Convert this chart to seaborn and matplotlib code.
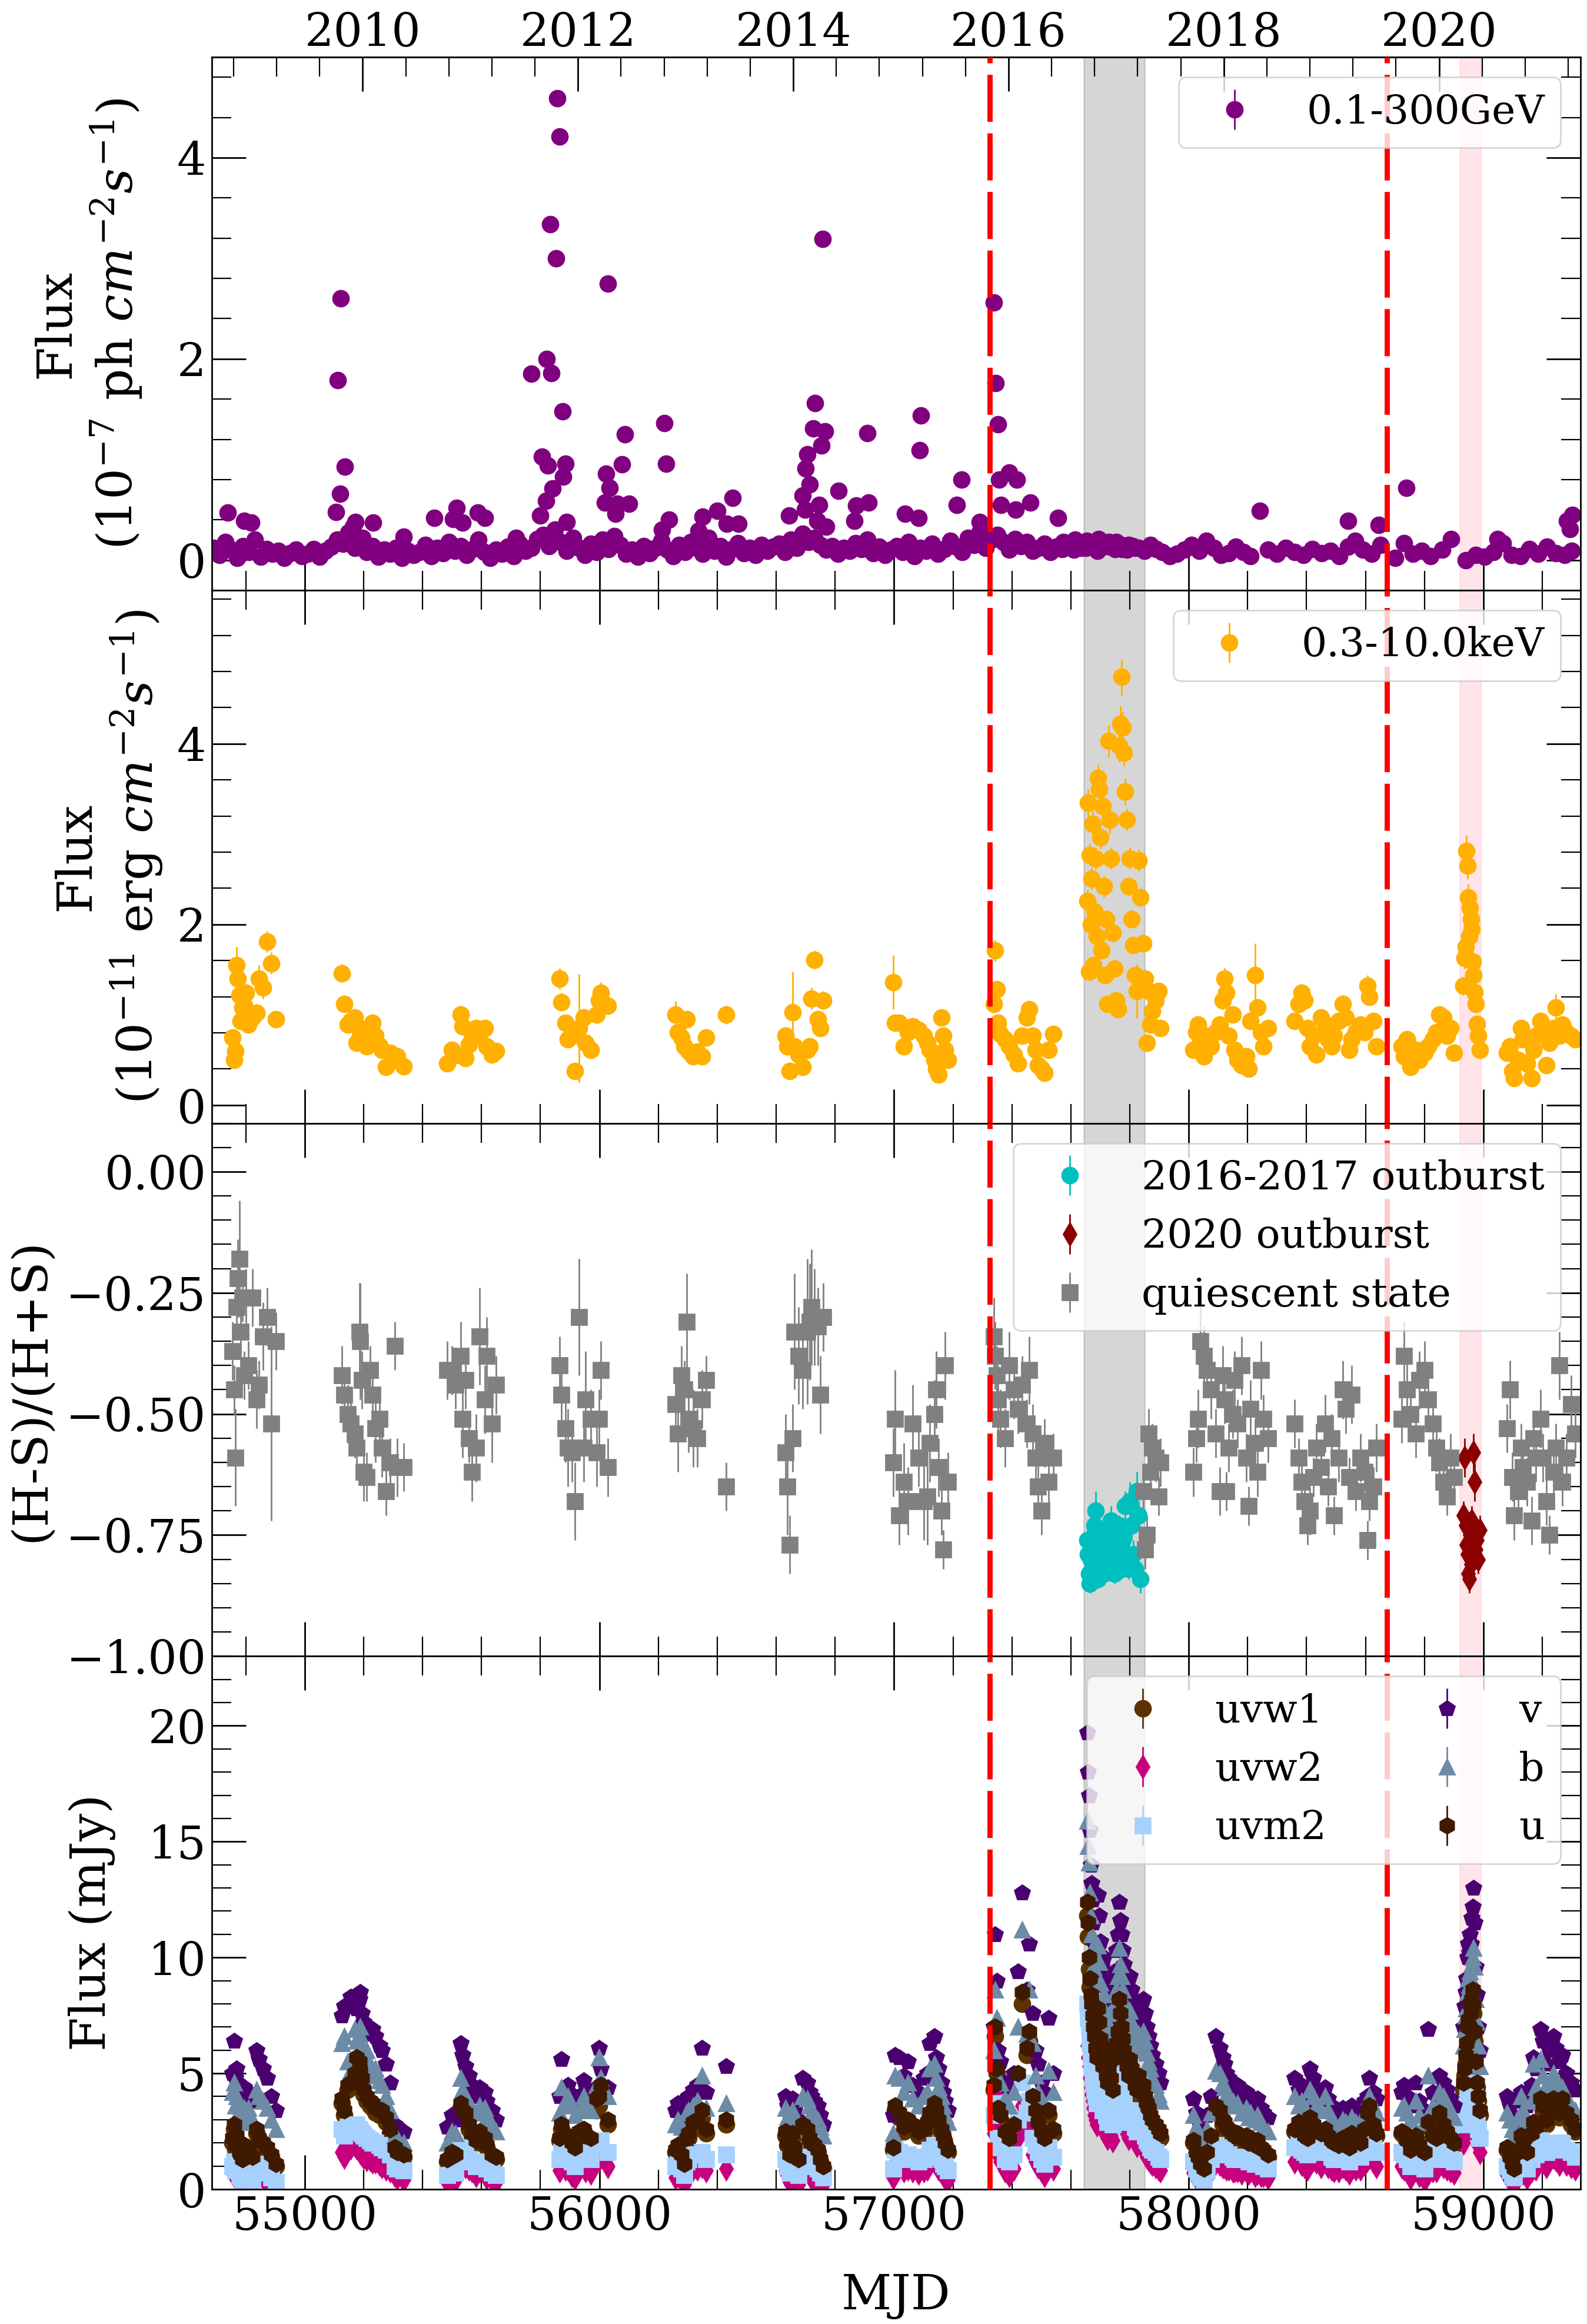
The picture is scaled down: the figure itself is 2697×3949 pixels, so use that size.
import numpy as np
import pandas as pd
import seaborn as sns
import matplotlib.pyplot as plt
from matplotlib.ticker import MultipleLocator, AutoMinorLocator

# ---------------- Fermi-LAT 0.1-300 GeV light curve ----------------
lat_mjd = [
    54690, 54710, 54730, 54750, 54770, 54790, 54810, 54830, 54850, 54870,
    54890, 54910, 54930, 54950, 54970, 54990, 55010, 55030, 55050, 55070,
    55090, 55110, 55130, 55150, 55170, 55190, 55210, 55230, 55250, 55270,
    55290, 55310, 55330, 55350, 55370, 55390, 55410, 55430, 55450, 55470,
    55490, 55510, 55530, 55550, 55570, 55590, 55610, 55630, 55650, 55670,
    55690, 55710, 55730, 55750, 55770, 55790, 55810, 55830, 55850, 55870,
    55890, 55910, 55930, 55950, 55970, 55990, 56010, 56030, 56050, 56070,
    56090, 56110, 56130, 56150, 56170, 56190, 56210, 56230, 56250, 56270,
    56290, 56310, 56330, 56350, 56370, 56390, 56410, 56430, 56450, 56470,
    56490, 56510, 56530, 56550, 56570, 56590, 56610, 56630, 56650, 56670,
    56690, 56710, 56730, 56750, 56770, 56790, 56810, 56830, 56850, 56870,
    56890, 56910, 56930, 56950, 56970, 56990, 57010, 57030, 57050, 57070,
    57090, 57110, 57130, 57150, 57170, 57190, 57210, 57230, 57250, 57270,
    57290, 57310, 57330, 57350, 57370, 57390, 57410, 57430, 57450, 57470,
    57490, 57510, 57530, 57550, 57570, 57590, 57610, 57630, 57650, 57670,
    57690, 57710, 57730, 57750, 57770, 57790, 57810, 57830, 57850, 57575,
    57595, 57615, 57635, 57655, 57675, 57695, 57715, 57735, 57755, 57775,
    57795, 57815, 57870, 57890, 57910, 57935, 57960, 57985, 58010, 58035,
    58060, 58085, 58110, 58135, 58160, 58185, 58210, 58270, 58300, 58330,
    58360, 58390, 58420, 58450, 58480, 58510, 58540, 58565, 58590, 58620,
    58650, 58700, 58730, 58760, 58790, 58820, 58860, 58890, 58940, 58975,
    59005, 59035, 59065, 59095, 59125, 59155, 59185, 59215, 59245, 59275,
    59300,
    # flaring bins
    54738, 54794, 54818, 55106, 55112, 55120, 55122, 55137, 55148, 55165,
    55172, 55196, 55232, 55335, 55439, 55503, 55515, 55535, 55587, 55611,
    55717, 55770, 55800, 55805, 55820, 55822, 55825, 55834, 55837, 55842,
    55853, 55857, 55866, 55875, 55878, 55886, 55890, 56018, 56022, 56028,
    56034, 56054, 56060, 56076, 56086, 56100, 56212, 56220, 56226, 56236,
    56337, 56351, 56401, 56433, 56453, 56473, 56643, 56689, 56697, 56700,
    56706, 56713, 56725, 56731, 56739, 56745, 56754, 56758, 56766, 56770,
    56811, 56866, 56872, 56910, 56914, 57038, 57084, 57088, 57092, 57212,
    57228, 57291, 57339, 57345, 57353, 57357, 57363, 57391, 57413, 57417,
    57463, 57557, 58242, 58540, 58645, 58739, 59049, 59284, 59293, 59302,
]
lat_flux = [
    0.12, 0.05, 0.18, 0.10, 0.02, 0.14, 0.08, 0.20, 0.03, 0.11,
    0.06, 0.09, 0.02, 0.07, 0.10, 0.04, 0.06, 0.11, 0.03, 0.09,
    0.13, 0.20, 0.16, 0.25, 0.12, 0.18, 0.08, 0.14, 0.03, 0.10,
    0.06, 0.12, 0.02, 0.09, 0.05, 0.08, 0.15, 0.04, 0.12, 0.07,
    0.18, 0.09, 0.14, 0.05, 0.11, 0.20, 0.08, 0.02, 0.10, 0.06,
    0.13, 0.04, 0.16, 0.09, 0.12, 0.21, 0.25, 0.14, 0.30, 0.18,
    0.09, 0.22, 0.12, 0.05, 0.16, 0.08, 0.20, 0.11, 0.24, 0.15,
    0.06, 0.10, 0.03, 0.14, 0.07, 0.12, 0.19, 0.10, 0.04, 0.15,
    0.08, 0.18, 0.12, 0.06, 0.22, 0.09, 0.14, 0.03, 0.11, 0.17,
    0.07, 0.12, 0.05, 0.15, 0.09, 0.13, 0.16, 0.08, 0.20, 0.12,
    0.26, 0.18, 0.22, 0.15, 0.10, 0.14, 0.06, 0.12, 0.09, 0.17,
    0.11, 0.20, 0.07, 0.13, 0.05, 0.10, 0.14, 0.08, 0.18, 0.04,
    0.12, 0.09, 0.16, 0.06, 0.11, 0.19, 0.13, 0.08, 0.22, 0.15,
    0.28, 0.12, 0.20, 0.25, 0.18, 0.10, 0.21, 0.14, 0.18, 0.09,
    0.12, 0.16, 0.08, 0.13, 0.11, 0.17, 0.10, 0.14, 0.12, 0.16,
    0.09, 0.13, 0.18, 0.11, 0.15, 0.10, 0.14, 0.12, 0.09, 0.18,
    0.15, 0.20, 0.12, 0.19, 0.14, 0.21, 0.16, 0.13, 0.18, 0.11,
    0.15, 0.12, 0.15, 0.11, 0.08, 0.04, 0.06, 0.10, 0.15, 0.09,
    0.19, 0.12, 0.05, 0.07, 0.13, 0.08, 0.04, 0.10, 0.06, 0.12,
    0.08, 0.05, 0.11, 0.07, 0.09, 0.04, 0.13, 0.19, 0.10, 0.06,
    0.15, 0.02, 0.17, 0.06, 0.09, 0.04, 0.10, 0.21, 0.00, 0.05,
    0.03, 0.08, 0.17, 0.05, 0.04, 0.11, 0.06, 0.13, 0.07, 0.05,
    0.09,
    # flaring bins
    0.47, 0.39, 0.37, 0.48, 1.79, 0.66, 2.60, 0.93, 0.27, 0.33,
    0.38, 0.22, 0.37, 0.23, 0.42, 0.41, 0.52, 0.37, 0.47, 0.42,
    0.22, 1.85, 0.44, 1.03, 0.59, 2.00, 0.94, 3.34, 1.86, 0.71,
    3.00, 4.59, 4.21, 1.48, 0.83, 0.96, 0.38, 0.57, 0.86, 2.75,
    0.72, 0.46, 0.56, 0.95, 1.25, 0.56, 0.30, 1.36, 0.96, 0.40,
    0.29, 0.43, 0.49, 0.36, 0.62, 0.36, 0.44, 0.64, 0.50, 0.91,
    1.05, 0.75, 1.31, 1.56, 0.39, 0.55, 1.14, 3.19, 1.28, 0.33,
    0.69, 0.39, 0.54, 1.26, 0.57, 0.46, 0.42, 1.09, 1.44, 0.55,
    0.80, 0.38, 2.56, 1.76, 1.35, 0.80, 0.55, 0.87, 0.50, 0.80,
    0.57, 0.42, 0.49, 0.39, 0.35, 0.72, 0.21, 0.39, 0.31, 0.45,
]
lat_err = 0.06

# ---------------- Swift epochs (XRT + UVOT) ----------------
swift_mjd = [
    54754, 54760, 54764, 54768, 54772, 54778, 54782, 54788, 54795, 54801, 54808, 54822, 54836, 54845, 54858, 54872, 54887, 54902,
    55126, 55135, 55147, 55156, 55171, 55177, 55186, 55189, 55195, 55201, 55210, 55222, 55231, 55240, 55255, 55261, 55275, 55290, 55305, 55314, 55335,
    55484, 55499, 55512, 55529, 55535, 55546, 55558, 55567, 55582, 55594, 55612, 55618, 55636, 55650,
    55865, 55871, 55886, 55892, 55907, 55916, 55931, 55946, 55952, 55970, 55990, 55999, 56005, 56029,
    56258, 56267, 56279, 56288, 56297, 56303, 56318, 56333, 56348, 56363, 56431,
    56631, 56637, 56646, 56655, 56661, 56676, 56690, 56705, 56714, 56720, 56729, 56741, 56750, 56759,
    56997, 57003, 57018, 57033, 57048, 57063, 57084, 57102, 57113, 57122, 57137, 57143, 57152, 57161, 57167, 57173, 57182,
    57338, 57343, 57348, 57352, 57361, 57376, 57391, 57406, 57420, 57435, 57450, 57459, 57471, 57480, 57489, 57501, 57510, 57525, 57540,
    57656, 57659, 57662, 57665, 57668, 57671, 57674, 57677, 57680, 57684, 57688, 57692, 57696, 57700, 57704, 57708, 57712, 57716, 57720, 57724,
    57728, 57732, 57737, 57742, 57748, 57754, 57760, 57764, 57768, 57772, 57776, 57780, 57785, 57790, 57795, 57800, 57806, 57812, 57818, 57824, 57830, 57836,
    57846, 57852, 57858, 57864, 57870, 57876, 57888, 57897, 57903,
    58016, 58025, 58031, 58040, 58052, 58061, 58076, 58091, 58106, 58115, 58121, 58127, 58135, 58150, 58156, 58165, 58180, 58195, 58204, 58210, 58225, 58234, 58246, 58254, 58269,
    58359, 58374, 58383, 58394, 58403, 58412, 58424, 58433, 58448, 58463, 58472, 58484, 58493, 58508, 58523, 58532, 58544, 58553, 58567, 58582, 58597, 58606, 58612, 58627, 58636,
    58722, 58731, 58740, 58752, 58770, 58782, 58800, 58812, 58829, 58841, 58850, 58865, 58877, 58889, 58901,
    58932, 58936, 58940, 58943, 58946, 58949, 58952, 58955, 58958, 58961, 58964, 58967, 58970, 58974, 58978, 58983, 58988,
    59080, 59089, 59098, 59103, 59118, 59127, 59133, 59148, 59163, 59169, 59178, 59193, 59202, 59214, 59223, 59237, 59246, 59258, 59267, 59282, 59297, 59312,
]
xrt_flux = [
    0.75, 0.50, 0.60, 1.55, 1.40, 1.22, 0.93, 1.08, 1.10, 1.24, 0.89, 0.97, 1.02, 1.40, 1.30, 1.81, 1.57, 0.95,
    1.46, 1.12, 0.89, 0.93, 0.97, 0.69, 0.85, 0.80, 0.75, 0.77, 0.65, 0.72, 0.91, 0.77, 0.66, 0.61, 0.42, 0.58, 0.50, 0.54, 0.43,
    0.46, 0.61, 0.55, 1.00, 0.87, 0.52, 0.67, 0.79, 0.85, 0.77, 0.85, 0.65, 0.56, 0.60,
    1.40, 1.14, 0.91, 0.73, 0.77, 0.38, 0.85, 0.97, 0.69, 0.61, 1.00, 1.16, 1.24, 1.10,
    1.00, 0.81, 0.75, 0.65, 0.95, 0.60, 0.54, 0.59, 0.54, 0.75, 1.00,
    0.77, 0.65, 0.38, 1.03, 0.65, 0.56, 0.42, 0.61, 0.65, 1.18, 1.61, 0.95, 0.85, 1.16,
    1.36, 0.91, 0.91, 0.65, 0.81, 0.87, 0.83, 0.77, 0.69, 0.61, 0.50, 0.40, 0.34, 0.97, 0.77, 0.61, 0.50,
    1.12, 1.71, 1.28, 0.91, 0.79, 0.73, 0.65, 0.56, 0.46, 0.77, 0.97, 1.06, 0.77, 0.61, 0.44, 0.40, 0.36, 0.61, 0.79,
    2.26, 3.35, 1.48, 2.77, 2.00, 2.51, 3.11, 1.55, 2.14, 2.73, 1.87, 3.62, 3.50, 2.96, 1.71, 3.31, 2.42, 1.44, 2.06, 1.12,
    4.03, 3.16, 2.73, 1.91, 1.51, 1.16, 1.06, 3.98, 4.22, 4.74, 4.18, 3.90, 3.47, 3.16, 2.42, 2.73, 2.06, 1.77, 1.44, 1.26, 2.71, 2.30,
    1.79, 1.40, 0.69, 1.26, 0.89, 1.04, 1.16, 1.26, 0.85,
    0.61, 0.81, 0.89, 0.69, 0.54, 0.77, 0.65, 0.81, 0.89, 1.16, 1.40, 1.24, 0.77, 1.00, 0.61, 0.50, 0.44, 0.54, 0.40, 0.93, 1.44, 1.08, 0.81, 0.65, 0.85,
    0.93, 1.12, 1.24, 1.16, 0.85, 0.65, 0.77, 0.56, 0.97, 0.89, 0.73, 0.65, 0.77, 0.93, 1.12, 0.97, 0.61, 0.73, 0.81, 0.89, 0.81, 1.32, 1.20, 0.93, 0.65,
    0.65, 0.54, 0.73, 0.42, 0.61, 0.50, 0.58, 0.65, 0.73, 0.81, 1.00, 0.97, 0.77, 0.85, 0.58,
    1.32, 1.63, 1.75, 2.81, 2.65, 2.30, 1.87, 2.18, 2.06, 1.95, 1.59, 1.44, 1.25, 1.12, 0.90, 0.77, 0.61,
    0.58, 0.65, 0.38, 0.30, 0.50, 0.85, 0.73, 0.46, 0.30, 0.61, 0.77, 0.93, 0.81, 0.44, 0.69, 0.85, 1.08, 0.77, 0.89, 0.81, 0.77, 0.73,
]
xrt_err = [
    0.08, 0.06, 0.07, 0.20, 0.12, 0.10, 0.08, 0.10, 0.10, 0.10, 0.08, 0.08, 0.10, 0.15, 0.12, 0.12, 0.12, 0.08,
    0.10, 0.08, 0.08, 0.08, 0.10, 0.07, 0.08, 0.08, 0.07, 0.07, 0.06, 0.07, 0.08, 0.07, 0.06, 0.06, 0.05, 0.06, 0.05, 0.06, 0.05,
    0.05, 0.06, 0.06, 0.10, 0.08, 0.06, 0.07, 0.08, 0.08, 0.07, 0.08, 0.06, 0.06, 0.06,
    0.12, 0.10, 0.08, 0.08, 0.08, 0.06, 0.60, 0.10, 0.08, 0.08, 0.10, 0.12, 0.12, 0.10,
    0.15, 0.08, 0.10, 0.07, 0.08, 0.06, 0.06, 0.07, 0.06, 0.08, 0.10,
    0.08, 0.07, 0.06, 0.45, 0.07, 0.06, 0.06, 0.07, 0.07, 0.12, 0.10, 0.10, 0.08, 0.10,
    0.30, 0.08, 0.08, 0.07, 0.08, 0.08, 0.08, 0.07, 0.07, 0.06, 0.06, 0.05, 0.05, 0.08, 0.07, 0.06, 0.06,
    0.10, 0.12, 0.10, 0.08, 0.07, 0.07, 0.06, 0.06, 0.05, 0.07, 0.08, 0.10, 0.07, 0.06, 0.05, 0.05, 0.05, 0.06, 0.07,
    0.12, 0.15, 0.08, 0.12, 0.10, 0.12, 0.15, 0.08, 0.10, 0.12, 0.10, 0.15, 0.15, 0.12, 0.08, 0.15, 0.12, 0.08, 0.10, 0.07,
    0.18, 0.15, 0.12, 0.10, 0.08, 0.07, 0.07, 0.18, 0.20, 0.20, 0.18, 0.15, 0.15, 0.12, 0.10, 0.12, 0.10, 0.10, 0.08, 0.30, 0.12, 0.10,
    0.10, 0.08, 0.06, 0.08, 0.06, 0.07, 0.08, 0.08, 0.06,
    0.06, 0.07, 0.08, 0.06, 0.05, 0.07, 0.06, 0.07, 0.08, 0.10, 0.12, 0.10, 0.07, 0.08, 0.06, 0.05, 0.05, 0.05, 0.05, 0.08, 0.35, 0.10, 0.07, 0.06, 0.07,
    0.08, 0.10, 0.10, 0.10, 0.07, 0.06, 0.07, 0.05, 0.08, 0.08, 0.06, 0.06, 0.07, 0.08, 0.10, 0.08, 0.06, 0.06, 0.07, 0.08, 0.07, 0.12, 0.10, 0.08, 0.06,
    0.06, 0.05, 0.06, 0.04, 0.05, 0.05, 0.05, 0.06, 0.06, 0.07, 0.08, 0.08, 0.06, 0.07, 0.05,
    0.10, 0.12, 0.12, 0.18, 0.15, 0.15, 0.12, 0.12, 0.12, 0.12, 0.10, 0.10, 0.08, 0.08, 0.07, 0.06, 0.06,
    0.05, 0.06, 0.04, 0.04, 0.05, 0.07, 0.06, 0.05, 0.04, 0.05, 0.06, 0.08, 0.07, 0.05, 0.06, 0.07, 0.15, 0.06, 0.07, 0.07, 0.06, 0.06,
]
hardness = [
    -0.37, -0.45, -0.59, -0.28, -0.22, -0.18, -0.33, -0.26, -0.42, -0.26, -0.40, -0.26, -0.47, -0.44, -0.34, -0.30, -0.52, -0.35,
    -0.42, -0.46, -0.50, -0.52, -0.54, -0.57, -0.33, -0.35, -0.43, -0.62, -0.63, -0.41, -0.46, -0.53, -0.51, -0.57, -0.66, -0.60, -0.36, -0.61, -0.61,
    -0.41, -0.41, -0.44, -0.38, -0.51, -0.43, -0.55, -0.62, -0.57, -0.34, -0.47, -0.38, -0.52, -0.44,
    -0.40, -0.46, -0.53, -0.57, -0.58, -0.68, -0.30, -0.57, -0.47, -0.51, -0.58, -0.51, -0.41, -0.61,
    -0.48, -0.54, -0.42, -0.45, -0.31, -0.51, -0.53, -0.55, -0.47, -0.43, -0.65,
    -0.58, -0.65, -0.77, -0.55, -0.33, -0.38, -0.41, -0.33, -0.31, -0.28, -0.30, -0.32, -0.46, -0.30,
    -0.60, -0.51, -0.71, -0.64, -0.68, -0.52, -0.59, -0.68, -0.67, -0.56, -0.50, -0.45, -0.61, -0.70, -0.78, -0.40, -0.64,
    -0.34, -0.38, -0.42, -0.47, -0.51, -0.55, -0.40, -0.45, -0.49, -0.44, -0.52, -0.41, -0.54, -0.59, -0.65, -0.70, -0.56, -0.64, -0.59,
    -0.76, -0.79, -0.83, -0.85, -0.80, -0.78, -0.82, -0.76, -0.73, -0.70, -0.80, -0.84, -0.76, -0.79, -0.82, -0.75, -0.83, -0.78, -0.74, -0.81,
    -0.77, -0.80, -0.72, -0.79, -0.83, -0.76, -0.80, -0.73, -0.78, -0.82, -0.76, -0.74, -0.69, -0.79, -0.82, -0.68, -0.73, -0.79, -0.82, -0.66, -0.71, -0.84,
    -0.66, -0.78, -0.75, -0.54, -0.62, -0.57, -0.59, -0.67, -0.60,
    -0.62, -0.55, -0.51, -0.35, -0.38, -0.41, -0.45, -0.54, -0.66, -0.42, -0.47, -0.66, -0.57, -0.50, -0.43, -0.52, -0.40, -0.59, -0.69, -0.49, -0.56, -0.62, -0.41, -0.51, -0.55,
    -0.52, -0.59, -0.64, -0.68, -0.73, -0.70, -0.63, -0.57, -0.61, -0.52, -0.65, -0.55, -0.71, -0.59, -0.45, -0.49, -0.63, -0.46, -0.66, -0.59, -0.62, -0.76, -0.68, -0.65, -0.57,
    -0.51, -0.38, -0.45, -0.50, -0.54, -0.43, -0.41, -0.47, -0.52, -0.57, -0.60, -0.64, -0.67, -0.59, -0.63,
    -0.71, -0.59, -0.73, -0.77, -0.79, -0.83, -0.84, -0.75, -0.81, -0.72, -0.80, -0.58, -0.64, -0.78, -0.76, -0.80, -0.74,
    -0.53, -0.45, -0.63, -0.71, -0.66, -0.57, -0.61, -0.64, -0.72, -0.55, -0.59, -0.51, -0.59, -0.68, -0.75, -0.62, -0.57, -0.40, -0.64, -0.59, -0.48, -0.54,
]
hardness_err = [
    0.06, 0.05, 0.10, 0.06, 0.08, 0.12, 0.06, 0.05, 0.05, 0.06, 0.05, 0.06, 0.06, 0.05, 0.07, 0.06, 0.20, 0.06,
    0.06, 0.05, 0.06, 0.05, 0.05, 0.06, 0.10, 0.12, 0.06, 0.06, 0.05, 0.05, 0.06, 0.07, 0.05, 0.06, 0.05, 0.05, 0.05, 0.06, 0.05,
    0.06, 0.05, 0.05, 0.07, 0.08, 0.06, 0.05, 0.06, 0.07, 0.10, 0.07, 0.08, 0.08, 0.06,
    0.06, 0.06, 0.07, 0.08, 0.06, 0.08, 0.12, 0.07, 0.10, 0.06, 0.07, 0.06, 0.06, 0.06,
    0.07, 0.08, 0.06, 0.06, 0.10, 0.07, 0.08, 0.06, 0.06, 0.05, 0.05,
    0.08, 0.10, 0.06, 0.07, 0.12, 0.10, 0.08, 0.15, 0.12, 0.12, 0.10, 0.08, 0.08, 0.07,
    0.07, 0.10, 0.06, 0.08, 0.07, 0.08, 0.06, 0.08, 0.10, 0.08, 0.07, 0.08, 0.06, 0.05, 0.04, 0.07, 0.06,
    0.08, 0.07, 0.06, 0.07, 0.06, 0.06, 0.07, 0.06, 0.05, 0.06, 0.05, 0.07, 0.06, 0.05, 0.06, 0.05, 0.05, 0.06, 0.05,
    0.03, 0.03, 0.02, 0.02, 0.03, 0.03, 0.02, 0.03, 0.03, 0.04, 0.02, 0.02, 0.03, 0.03, 0.02, 0.03, 0.02, 0.03, 0.03, 0.02,
    0.02, 0.02, 0.03, 0.03, 0.02, 0.03, 0.03, 0.02, 0.02, 0.02, 0.02, 0.02, 0.03, 0.03, 0.02, 0.04, 0.03, 0.03, 0.02, 0.04, 0.03, 0.03,
    0.04, 0.04, 0.04, 0.05, 0.04, 0.05, 0.05, 0.04, 0.05,
    0.05, 0.05, 0.06, 0.07, 0.06, 0.05, 0.06, 0.05, 0.05, 0.06, 0.05, 0.04, 0.05, 0.05, 0.06, 0.05, 0.06, 0.05, 0.04, 0.06, 0.05, 0.05, 0.06, 0.05, 0.05,
    0.05, 0.04, 0.04, 0.04, 0.04, 0.05, 0.04, 0.05, 0.04, 0.06, 0.04, 0.05, 0.04, 0.05, 0.06, 0.05, 0.04, 0.06, 0.04, 0.05, 0.04, 0.04, 0.04, 0.04, 0.05,
    0.05, 0.07, 0.06, 0.05, 0.05, 0.06, 0.06, 0.05, 0.05, 0.05, 0.05, 0.04, 0.04, 0.05, 0.05,
    0.03, 0.04, 0.03, 0.03, 0.03, 0.03, 0.03, 0.03, 0.03, 0.03, 0.03, 0.04, 0.04, 0.03, 0.03, 0.03, 0.03,
    0.05, 0.06, 0.05, 0.05, 0.05, 0.05, 0.05, 0.05, 0.05, 0.05, 0.05, 0.06, 0.05, 0.05, 0.04, 0.05, 0.05, 0.07, 0.05, 0.05, 0.06, 0.05,
]
uvw1_flux = [
    2.0, 2.6, 1.7, 2.1, 1.8, 1.5, 1.4, 1.2, 1.7, 1.5, 1.6, 1.3, 2.4, 2.0, 1.8, 1.6, 1.4, 1.0,
    3.7, 3.2, 4.3, 4.4, 4.8, 5.4, 5.2, 4.9, 4.6, 4.1, 3.8, 3.6, 3.5, 3.3, 3.2, 3.2, 2.9, 2.4, 1.7, 1.5, 1.4,
    1.2, 1.5, 1.4, 3.5, 3.2, 3.1, 2.6, 2.3, 2.0, 2.4, 2.1, 1.8, 1.4, 1.3,
    2.1, 2.6, 2.2, 2.2, 1.9, 1.7, 2.4, 2.5, 2.2, 2.1, 3.4, 3.6, 4.0, 2.8,
    1.6, 1.8, 1.4, 1.0, 2.0, 2.2, 2.6, 2.8, 3.1, 2.4, 2.8,
    2.3, 1.9, 1.4, 2.2, 1.7, 1.2, 2.6, 2.4, 2.1, 1.9, 1.8, 1.6, 1.2, 0.9,
    1.7, 3.4, 3.1, 2.5, 2.8, 2.6, 2.3, 2.4, 2.7, 3.1, 3.5, 3.2, 2.8, 2.4, 2.2, 1.9, 1.6,
    4.3, 6.6, 5.0, 3.3, 3.0, 2.4, 2.1, 2.6, 4.7, 8.0, 5.8, 6.4, 3.8, 3.2, 2.7, 2.3, 2.0, 3.2, 2.4,
    11.8, 10.9, 9.5, 8.7, 8.0, 7.6, 7.1, 6.6, 6.2, 5.8, 5.4, 7.4, 6.8, 6.2, 5.6, 5.0, 5.8, 5.1, 4.6, 4.3,
    4.8, 5.2, 4.5, 4.1, 5.4, 6.0, 6.5, 7.8, 7.2, 6.6, 6.1, 5.7, 5.3, 5.0, 4.6, 5.3, 4.9, 4.6, 4.3, 4.1, 4.6, 4.2,
    4.3, 3.8, 3.5, 3.3, 3.0, 2.8, 2.6, 2.4, 2.2,
    2.0, 1.5, 1.3, 1.0, 0.8, 1.5, 2.1, 3.4, 3.2, 2.8, 2.7, 2.5, 2.4, 2.3, 2.1, 2.2, 2.0, 2.1, 1.9, 2.0, 1.8, 1.9, 1.7, 1.6, 1.4,
    2.5, 2.7, 2.4, 2.2, 2.1, 2.9, 2.6, 2.5, 2.3, 2.5, 2.2, 2.0, 1.9, 1.8, 2.1, 2.0, 1.7, 2.3, 2.1, 1.9, 2.5, 3.1, 3.4, 2.7, 2.3,
    2.4, 2.3, 2.0, 1.6, 2.2, 1.8, 1.5, 2.7, 2.2, 2.1, 3.1, 2.6, 2.4, 2.1, 1.9,
    4.3, 4.9, 5.4, 5.9, 6.6, 6.9, 6.6, 7.5, 7.2, 7.7, 8.1, 7.6, 6.4, 5.2, 4.4, 3.8, 3.2,
    1.7, 1.3, 1.0, 0.8, 1.5, 2.2, 1.9, 1.5, 2.3, 2.7, 2.5, 3.7, 3.4, 2.8, 3.4, 3.7, 3.5, 3.1, 3.7, 3.1, 2.8, 2.5,
]
uvw2_flux = [
    0.7, 0.9, 0.5, 0.7, 0.6, 0.3, 0.2, 0.1, 0.5, 0.3, 0.4, 0.15, 0.8, 0.6, 0.5, 0.4, 0.3, 0.1,
    1.6, 1.4, 1.7, 1.8, 1.9, 1.8, 1.7, 1.6, 1.5, 1.4, 1.3, 1.3, 1.2, 1.2, 1.1, 1.0, 0.9, 0.8, 0.6, 0.5, 0.4,
    0.3, 0.5, 0.4, 1.2, 1.1, 1.0, 0.9, 0.8, 0.6, 0.8, 0.7, 0.5, 0.4, 0.3,
    0.8, 1.1, 0.9, 0.9, 0.6, 0.5, 0.9, 1.0, 0.8, 0.7, 1.2, 1.3, 1.4, 1.0,
    0.5, 0.6, 0.4, 0.2, 0.7, 0.8, 0.9, 0.9, 1.0, 0.8, 0.9,
    0.8, 0.6, 0.3, 0.7, 0.5, 0.2, 0.9, 0.8, 0.6, 0.5, 0.5, 0.4, 0.3, 0.2,
    0.5, 1.1, 1.0, 0.8, 0.9, 0.8, 0.7, 0.8, 0.9, 1.1, 1.2, 1.1, 0.9, 0.8, 0.6, 0.5, 0.4,
    2.4, 4.2, 2.8, 1.5, 1.2, 0.8, 0.6, 0.9, 2.2, 3.6, 2.5, 2.9, 1.5, 1.2, 1.0, 0.8, 0.6, 1.2, 0.9,
    6.2, 5.7, 5.3, 4.8, 4.4, 4.1, 3.8, 3.5, 3.2, 3.0, 2.8, 3.9, 3.6, 3.2, 2.9, 2.6, 3.0, 2.7, 2.4, 2.2,
    2.5, 2.7, 2.3, 2.1, 2.8, 3.1, 3.3, 3.8, 3.5, 3.3, 3.0, 2.8, 2.6, 2.4, 2.2, 2.6, 2.4, 2.3, 2.1, 1.9, 2.2, 2.0,
    1.8, 1.6, 1.4, 1.3, 1.2, 1.1, 1.0, 0.9, 0.8,
    0.7, 0.5, 0.4, 0.2, 0.1, 0.5, 0.8, 1.2, 1.1, 1.0, 1.0, 0.9, 0.9, 0.8, 0.8, 0.8, 0.7, 0.8, 0.7, 0.8, 0.6, 0.7, 0.6, 0.6, 0.5,
    1.2, 1.4, 1.1, 1.0, 0.9, 1.4, 1.3, 1.2, 1.0, 1.2, 1.0, 0.9, 0.8, 0.8, 1.0, 0.9, 0.7, 1.0, 0.9, 0.9, 1.1, 1.3, 1.4, 1.2, 1.0,
    1.0, 0.9, 0.8, 0.5, 0.9, 0.6, 0.4, 1.2, 0.8, 0.8, 1.2, 1.0, 0.9, 0.8, 0.7,
    2.0, 2.3, 2.6, 2.9, 3.2, 3.4, 3.2, 3.7, 3.5, 3.8, 4.1, 3.8, 3.2, 2.7, 2.2, 1.9, 1.6,
    0.6, 0.4, 0.3, 0.2, 0.5, 0.8, 0.7, 0.5, 0.8, 1.0, 0.9, 1.4, 1.2, 1.0, 1.3, 1.4, 1.3, 1.1, 1.4, 1.1, 1.0, 0.9,
]
uvm2_flux = [
    1.0, 1.2, 0.8, 1.0, 0.9, 0.6, 0.5, 0.4, 0.8, 0.6, 0.7, 0.4, 1.1, 0.9, 0.8, 0.7, 0.5, 0.3,
    2.6, 2.3, 2.7, 2.8, 2.7, 2.8, 2.6, 2.5, 2.4, 2.3, 2.2, 2.1, 2.0, 2.0, 1.9, 1.8, 1.7, 1.5, 1.0, 0.9, 0.8,
    0.6, 0.8, 0.7, 1.8, 1.6, 1.5, 1.3, 1.2, 1.0, 1.2, 1.1, 0.9, 0.7, 0.6,
    1.3, 1.7, 1.4, 1.5, 1.2, 1.0, 1.5, 1.6, 1.4, 1.3, 1.9, 2.0, 2.1, 1.6,
    1.0, 1.1, 0.9, 0.6, 1.2, 1.3, 1.5, 1.5, 1.6, 1.3, 1.5,
    1.3, 1.0, 0.7, 1.2, 0.9, 0.6, 1.4, 1.3, 1.1, 1.0, 1.0, 0.9, 0.7, 0.5,
    0.9, 1.7, 1.6, 1.3, 1.5, 1.4, 1.2, 1.3, 1.4, 1.7, 1.9, 1.7, 1.5, 1.3, 1.1, 1.0, 0.8,
    3.2, 5.5, 3.7, 2.2, 1.8, 1.3, 1.2, 1.5, 3.0, 4.6, 3.3, 3.8, 2.2, 1.9, 1.6, 1.3, 1.1, 1.8, 1.4,
    8.0, 7.4, 7.0, 6.3, 5.8, 5.4, 5.0, 4.6, 4.3, 4.0, 3.7, 5.1, 4.7, 4.2, 3.8, 3.4, 3.9, 3.5, 3.2, 2.9,
    3.3, 3.5, 3.1, 2.8, 3.6, 4.0, 4.3, 5.0, 4.6, 4.3, 4.0, 3.7, 3.4, 3.2, 2.9, 3.4, 3.2, 3.0, 2.7, 2.5, 2.9, 2.6,
    2.6, 2.3, 2.1, 2.0, 1.8, 1.7, 1.6, 1.4, 1.3,
    1.2, 0.9, 0.7, 0.5, 0.4, 0.8, 1.3, 1.9, 1.8, 1.7, 1.6, 1.5, 1.5, 1.4, 1.3, 1.4, 1.3, 1.3, 1.2, 1.3, 1.1, 1.2, 1.1, 1.0, 0.9,
    1.8, 2.0, 1.7, 1.6, 1.5, 2.1, 1.9, 1.8, 1.6, 1.8, 1.6, 1.4, 1.3, 1.3, 1.5, 1.4, 1.2, 1.6, 1.5, 1.4, 1.7, 2.0, 2.1, 1.8, 1.6,
    1.6, 1.5, 1.3, 1.0, 1.4, 1.1, 0.9, 1.8, 1.4, 1.3, 1.8, 1.6, 1.5, 1.3, 1.2,
    2.8, 3.1, 3.4, 3.7, 4.1, 4.4, 4.2, 4.7, 4.5, 4.9, 5.2, 4.9, 4.2, 3.5, 3.0, 2.6, 2.2,
    1.0, 0.8, 0.6, 0.5, 0.9, 1.3, 1.1, 0.9, 1.3, 1.6, 1.5, 2.1, 1.9, 1.6, 1.9, 2.0, 1.9, 1.7, 2.0, 1.7, 1.6, 1.4,
]
v_flux = [
    5.0, 6.4, 4.8, 5.2, 4.6, 4.2, 4.0, 3.6, 4.4, 4.0, 4.2, 3.8, 6.0, 5.6, 5.2, 4.8, 4.0, 3.4,
    7.5, 7.9, 8.0, 8.3, 7.9, 7.8, 8.2, 8.5, 7.6, 7.2, 7.0, 6.7, 6.9, 6.6, 6.2, 6.0, 5.4, 4.6, 2.8, 2.7, 2.5,
    2.7, 3.2, 3.0, 6.3, 5.8, 5.3, 4.9, 4.5, 4.0, 4.4, 4.2, 3.8, 3.4, 3.0,
    4.0, 5.6, 4.3, 4.5, 4.1, 3.8, 4.0, 4.7, 4.2, 4.0, 4.4, 6.1, 5.2, 4.4,
    3.4, 3.7, 3.3, 3.0, 3.9, 4.0, 4.3, 4.5, 6.1, 4.2, 5.3,
    4.0, 3.6, 3.2, 3.9, 3.4, 3.0, 4.8, 4.6, 4.2, 4.0, 3.8, 3.6, 3.2, 2.8,
    3.2, 5.8, 5.7, 4.9, 5.5, 4.5, 4.2, 4.8, 5.0, 6.3, 6.6, 5.7, 5.2, 4.6, 4.2, 3.8, 3.4,
    7.0, 11.0, 9.0, 6.0, 5.5, 4.6, 4.2, 5.0, 9.4, 12.8, 8.6, 10.6, 7.6, 6.0, 5.4, 4.6, 4.2, 7.4, 5.0,
    19.7, 18.0, 17.0, 15.5, 14.0, 13.2, 12.5, 11.5, 10.6, 9.8, 9.2, 12.7, 11.8, 10.7, 9.6, 8.8, 10.0, 9.0, 8.2, 7.6,
    8.4, 9.0, 8.0, 7.4, 9.4, 10.3, 11.0, 12.4, 11.6, 11.0, 10.3, 9.7, 9.0, 8.6, 8.0, 9.2, 8.6, 8.2, 7.6, 7.2, 8.0, 7.4,
    8.2, 7.6, 7.0, 6.6, 6.2, 5.8, 5.4, 5.0, 4.6,
    3.9, 3.3, 3.0, 2.6, 2.3, 3.2, 4.0, 6.6, 6.1, 5.7, 5.4, 5.0, 4.8, 4.6, 4.3, 4.5, 4.0, 4.2, 3.8, 4.0, 3.7, 3.9, 3.5, 3.3, 3.1,
    4.8, 4.3, 4.5, 4.0, 3.8, 5.2, 4.8, 4.3, 4.0, 4.4, 3.9, 3.6, 3.4, 3.1, 3.5, 3.3, 3.0, 3.6, 3.4, 3.2, 3.8, 4.0, 4.8, 4.2, 3.9,
    4.2, 4.5, 4.0, 3.6, 4.6, 3.8, 3.4, 6.9, 4.2, 4.0, 4.9, 4.6, 4.3, 3.9, 3.6,
    7.0, 7.9, 8.5, 9.1, 10.0, 10.6, 10.2, 11.0, 10.6, 11.7, 12.2, 13.0, 11.5, 9.6, 8.4, 7.0, 6.0,
    4.0, 3.6, 3.2, 2.9, 3.8, 4.2, 4.0, 3.6, 4.5, 5.7, 5.2, 6.9, 6.4, 5.4, 6.0, 6.6, 6.1, 5.5, 5.8, 5.0, 4.6, 4.3,
]
b_flux = [
    4.2, 4.6, 3.6, 4.0, 3.8, 3.4, 3.2, 2.9, 3.5, 3.3, 3.5, 3.0, 4.3, 4.0, 3.8, 3.5, 3.0, 2.6,
    6.3, 6.6, 5.5, 5.1, 6.9, 6.4, 6.7, 7.0, 6.2, 5.9, 6.0, 5.4, 4.9, 5.2, 4.7, 4.5, 4.0, 3.4, 2.3, 2.2, 2.0,
    2.0, 2.5, 2.4, 4.8, 4.3, 4.0, 3.7, 3.5, 3.3, 3.6, 3.5, 3.1, 2.8, 2.5,
    3.3, 4.4, 3.7, 4.0, 3.6, 3.2, 3.4, 4.0, 3.6, 3.4, 4.5, 5.7, 4.8, 4.0,
    2.8, 3.0, 2.7, 2.5, 3.3, 3.4, 3.6, 3.8, 4.9, 3.5, 3.7,
    3.5, 3.1, 2.7, 3.4, 3.0, 2.6, 4.0, 3.9, 3.6, 3.3, 3.2, 3.0, 2.7, 2.3,
    2.4, 4.9, 4.8, 4.2, 4.6, 3.9, 3.6, 4.0, 4.2, 5.2, 5.4, 4.8, 4.4, 4.0, 3.6, 3.2, 2.9,
    6.0, 8.6, 7.4, 4.8, 4.6, 3.9, 3.6, 4.2, 7.0, 11.2, 6.7, 8.6, 6.3, 4.9, 4.2, 3.9, 3.6, 5.1, 4.2,
    15.9, 14.8, 14.1, 12.8, 11.8, 11.0, 10.4, 9.6, 8.9, 8.3, 7.8, 10.5, 9.8, 8.9, 8.0, 7.4, 8.4, 7.6, 6.9, 6.4,
    7.1, 7.6, 6.8, 6.3, 7.9, 8.6, 9.2, 10.4, 9.7, 9.2, 8.6, 8.1, 7.6, 7.2, 6.7, 7.7, 7.2, 6.9, 6.4, 6.0, 6.7, 6.2,
    6.8, 6.4, 5.9, 5.5, 5.2, 4.8, 4.5, 4.1, 3.8,
    3.2, 2.7, 2.4, 2.0, 1.8, 2.6, 3.3, 5.1, 5.0, 4.6, 4.4, 4.1, 4.0, 3.8, 3.6, 3.7, 3.3, 3.5, 3.1, 3.3, 3.0, 3.2, 2.9, 2.7, 2.5,
    4.0, 3.6, 3.8, 3.4, 3.2, 4.3, 4.0, 3.6, 3.4, 4.0, 3.4, 3.1, 2.9, 2.7, 3.0, 2.9, 2.6, 3.1, 2.9, 2.8, 3.3, 3.4, 4.0, 3.6, 3.3,
    3.5, 3.6, 3.3, 3.0, 3.8, 3.2, 2.9, 4.9, 3.6, 3.4, 4.2, 4.0, 3.7, 3.4, 3.1,
    6.2, 6.9, 7.5, 7.8, 8.5, 9.1, 8.8, 9.4, 9.1, 9.7, 10.0, 10.4, 9.6, 8.2, 7.2, 6.2, 5.3,
    3.3, 3.0, 2.6, 2.3, 3.1, 4.0, 3.4, 3.0, 3.8, 5.4, 4.4, 5.6, 4.9, 4.5, 4.5, 5.0, 4.7, 4.3, 4.4, 3.9, 3.6, 3.4,
]
u_flux = [
    2.2, 2.8, 1.9, 2.3, 2.0, 1.6, 1.5, 1.3, 1.9, 1.6, 1.8, 1.4, 2.6, 2.2, 2.0, 1.8, 1.5, 1.1,
    3.9, 3.4, 4.5, 4.6, 5.0, 5.7, 5.5, 5.1, 4.8, 4.3, 4.0, 3.8, 3.7, 3.5, 3.4, 3.4, 3.1, 2.6, 1.8, 1.6, 1.5,
    1.3, 1.6, 1.5, 3.7, 3.4, 3.3, 2.8, 2.4, 2.1, 2.5, 2.2, 1.9, 1.5, 1.4,
    2.2, 2.8, 2.3, 2.3, 2.0, 1.8, 2.5, 2.6, 2.3, 2.2, 3.9, 4.0, 4.5, 3.0,
    1.7, 1.9, 1.5, 1.1, 2.2, 2.4, 2.9, 3.0, 3.4, 2.6, 3.0,
    2.5, 2.0, 1.5, 2.4, 1.8, 1.3, 2.8, 2.6, 2.2, 2.0, 1.9, 1.7, 1.3, 1.0,
    1.8, 3.6, 3.3, 2.7, 3.0, 2.8, 2.5, 2.6, 2.9, 3.3, 3.7, 3.4, 3.0, 2.6, 2.3, 2.0, 1.7,
    4.5, 7.0, 5.2, 3.5, 3.2, 2.5, 2.2, 2.8, 5.0, 8.5, 6.1, 6.8, 4.0, 3.4, 2.9, 2.5, 2.2, 3.4, 2.6,
    12.4, 11.5, 10.0, 9.1, 8.4, 8.0, 7.5, 7.0, 6.6, 6.1, 5.7, 7.8, 7.2, 6.5, 5.9, 5.3, 6.1, 5.4, 4.9, 4.6,
    5.1, 5.5, 4.8, 4.3, 5.7, 6.3, 6.8, 8.2, 7.6, 7.0, 6.5, 6.0, 5.6, 5.3, 4.9, 5.6, 5.2, 4.9, 4.5, 4.3, 4.9, 4.5,
    4.5, 4.0, 3.7, 3.5, 3.2, 3.0, 2.8, 2.6, 2.4,
    2.1, 1.6, 1.4, 1.1, 0.9, 1.6, 2.3, 3.6, 3.4, 3.0, 2.9, 2.7, 2.6, 2.5, 2.3, 2.4, 2.2, 2.3, 2.0, 2.2, 1.9, 2.1, 1.8, 1.7, 1.5,
    2.6, 2.9, 2.5, 2.3, 2.2, 3.1, 2.8, 2.6, 2.4, 2.6, 2.3, 2.1, 2.0, 1.9, 2.2, 2.1, 1.8, 2.4, 2.2, 2.0, 2.6, 3.3, 3.6, 2.8, 2.4,
    2.5, 2.4, 2.1, 1.7, 2.3, 1.9, 1.6, 2.9, 2.3, 2.2, 3.3, 2.8, 2.5, 2.2, 2.0,
    4.6, 5.2, 5.8, 6.3, 7.0, 7.3, 7.0, 8.0, 7.6, 8.2, 8.6, 8.0, 6.8, 5.5, 4.6, 4.0, 3.4,
    1.8, 1.4, 1.1, 0.9, 1.6, 2.3, 2.0, 1.6, 2.4, 2.9, 2.7, 3.9, 3.6, 3.0, 3.6, 3.9, 3.7, 3.3, 3.9, 3.3, 3.0, 2.6,
]
# typical UVOT uncertainty per filter (mJy), order: uvw1, uvw2, uvm2, v, b, u
uvot_err = [0.12, 0.10, 0.10, 0.20, 0.15, 0.12]

# reference epochs / intervals
outburst_2016 = (57645, 57850)
outburst_2020 = (58920, 58990)
dashed_epochs = [57325, 58672]

# ---------------- style ----------------
sns.set_theme(style="ticks")
plt.rcParams['font.family'] = ['DejaVu Serif']
plt.rcParams['mathtext.fontset'] = 'dejavuserif'
plt.rcParams.update({
    'axes.edgecolor': 'black', 'axes.linewidth': 1.0,
    'text.color': 'black', 'axes.labelcolor': 'black',
    'xtick.color': 'black', 'ytick.color': 'black',
    'legend.fontsize': 24.5, 'axes.labelsize': 30,
})

swift = pd.DataFrame({
    'mjd': swift_mjd, 'xrt': xrt_flux, 'xrt_err': xrt_err,
    'hr': hardness, 'hr_err': hardness_err,
    'uvw1': uvw1_flux, 'uvw2': uvw2_flux, 'uvm2': uvm2_flux,
    'v': v_flux, 'b': b_flux, 'u': u_flux,
})
swift['state'] = 'quiescent state'
swift.loc[swift.mjd.between(57650, 57840), 'state'] = '2016-2017 outburst'
swift.loc[swift.mjd.between(58925, 58995), 'state'] = '2020 outburst'


def mjd_to_year(m):
    return 2000.0 + (np.asarray(m, dtype=float) - 51544.5) / 365.25


def year_to_mjd(y):
    return 51544.5 + (np.asarray(y, dtype=float) - 2000.0) * 365.25


fig, axes = plt.subplots(4, 1, figsize=(13.485, 19.745), dpi=200, sharex=True)
fig.subplots_adjust(left=0.1335, right=0.996, top=0.9754, bottom=0.058, hspace=0)

ms = 9.7
for ax in axes:
    ax.axvspan(*outburst_2016, color='grey', alpha=0.32, zorder=0)
    ax.axvspan(*outburst_2020, color='pink', alpha=0.4, zorder=0)
    for e in dashed_epochs:
        ax.axvline(e, color='red', lw=3.2, ls=(0, (9, 2.2)), zorder=4)

# panel 1: gamma rays
ax = axes[0]
ax.errorbar(lat_mjd, lat_flux, yerr=lat_err, fmt='o', color='purple', ms=ms,
            elinewidth=1, label='0.1-300GeV')
ax.set_ylim(-0.3, 5.0)
ax.yaxis.set_major_locator(MultipleLocator(2))
ax.yaxis.set_minor_locator(MultipleLocator(0.4))
ax.set_ylabel('Flux\n($10^{-7}$ ph $cm^{-2}s^{-1}$)')
ax.legend(loc='upper right', frameon=True)

# panel 2: X-rays
ax = axes[1]
ax.errorbar(swift.mjd, swift.xrt, yerr=swift.xrt_err, fmt='o', color='#FFB000',
            ms=ms, elinewidth=1, label='0.3-10.0keV')
ax.set_ylim(-0.2, 5.7)
ax.yaxis.set_major_locator(MultipleLocator(2))
ax.yaxis.set_minor_locator(MultipleLocator(0.4))
ax.set_ylabel('Flux\n($10^{-11}$ erg $cm^{-2}s^{-1}$)')
ax.legend(loc='upper right', frameon=True)

# panel 3: hardness ratio
ax = axes[2]
for state, col, mk in [('2016-2017 outburst', '#00BFBF', 'o'),
                       ('2020 outburst', '#8B0000', 'd'),
                       ('quiescent state', '#808080', 's')]:
    sub = swift[swift.state == state]
    ax.errorbar(sub.mjd, sub.hr, yerr=sub.hr_err, fmt=mk, color=col, ms=ms,
                elinewidth=1, label=state)
ax.set_ylim(-1.0, 0.1)
ax.yaxis.set_major_locator(MultipleLocator(0.25))
ax.yaxis.set_minor_locator(MultipleLocator(0.05))
ax.set_ylabel('(H-S)/(H+S)')
ax.legend(loc='upper right', frameon=True)

# panel 4: UVOT
ax = axes[3]
bands = [('uvw1', '#5C3300', 'o'), ('uvw2', '#C7007D', 'd'), ('uvm2', '#A6D1FF', 's'),
         ('v', '#4B0070', 'p'), ('b', '#6C8BA6', '^'), ('u', '#3F1A00', 'h')]
for (band, col, mk), err in zip(bands, uvot_err):
    ax.errorbar(swift.mjd, swift[band], yerr=err, fmt=mk, color=col, ms=ms,
                elinewidth=1, label=band)
ax.set_ylim(0, 23)
ax.yaxis.set_major_locator(MultipleLocator(5))
ax.yaxis.set_minor_locator(MultipleLocator(1))
ax.set_ylabel('Flux (mJy)')
ax.set_xlabel('MJD', labelpad=20)
ax.legend(loc='upper right', ncol=2, frameon=True)

ax.set_xlim(54685, 59330)
ax.xaxis.set_major_locator(MultipleLocator(1000))
ax.xaxis.set_minor_locator(MultipleLocator(200))

for ax in axes:
    ax.tick_params(which='both', direction='in', top=True, right=True, labelsize=28)
    ax.tick_params(which='major', length=21, width=1.0)
    ax.tick_params(which='minor', length=12, width=0.8)
axes[0].tick_params(which='both', top=False)

# label positions (axes fraction)
for ax, xl in zip(axes, [-0.0494, -0.0344, -0.115, -0.0701]):
    ax.yaxis.set_label_coords(xl, 0.5)

# calendar years on top
sec = axes[0].secondary_xaxis('top', functions=(mjd_to_year, year_to_mjd))
sec.xaxis.set_major_locator(MultipleLocator(2))
sec.xaxis.set_minor_locator(AutoMinorLocator(5))
sec.tick_params(which='both', direction='in', labelsize=28, pad=1.0)
sec.tick_params(which='major', length=21, width=1.0)
sec.tick_params(which='minor', length=12, width=0.8)

fig.savefig('out.png', dpi=200)
